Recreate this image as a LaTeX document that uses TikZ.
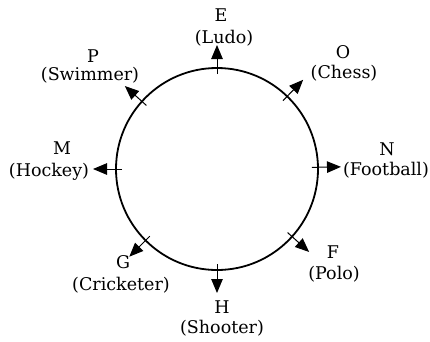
\documentclass[tikz,border=0pt]{standalone}
\usepackage{fontspec}
\setmainfont{DejaVu Serif}
\usetikzlibrary{calc,arrows.meta}
\tikzset{
  lbl/.style={inner sep=0pt, font=\fontsize{17.5}{19}\selectfont},
  arr/.style={-{Triangle[length=14pt,width=11.5pt]}, line width=1pt},
  ring/.style={circle, draw, line width=1.8pt, minimum size=202pt, inner sep=0pt}
}
\begin{document}
\begin{tikzpicture}[x=1pt,y=-1pt]
\useasboundingbox (0,0) rectangle (430,341);
\node[ring] (C) at (217,169) {};
% arrow end points (angles mirrored since y points down)
\foreach \n/\a in {E/90, O/46, N/1, F/-42, H/-90, G/-135, M/180, P/138}{
  \coordinate (\n s) at ($(C.center)+(-\a:95)$);
  \coordinate (\n t) at ($(C.center)+(-\a:124)$);
}
\foreach \n in {E,O,N,F,H,G,M,P}{
  \draw[arr] (\n s) -- (\n t);
}
% labels
\node[lbl] (E1) at (221,15) {E};
\node[lbl] (E2) at (224,38) {(Ludo)};
\node[lbl] (O1) at (343,52) {O};
\node[lbl] (O2) at (344,73) {(Chess)};
\node[lbl] (N1) at (387,149) {N};
\node[lbl] (N2) at (386,170) {(Football)};
\node[lbl] (F1) at (333,252) {F};
\node[lbl] (F2) at (334,274) {(Polo)};
\node[lbl] (H1) at (222,307) {H};
\node[lbl] (H2) at (222,328) {(Shooter)};
\node[lbl] (G1) at (123,262) {G};
\node[lbl] (G2) at (121,285) {(Cricketer)};
\node[lbl] (M1) at (62,148) {M};
\node[lbl] (M2) at (49,172) {(Hockey)};
\node[lbl] (P1) at (93,56) {P};
\node[lbl] (P2) at (90,75) {(Swimmer)};
\end{tikzpicture}
\end{document}
